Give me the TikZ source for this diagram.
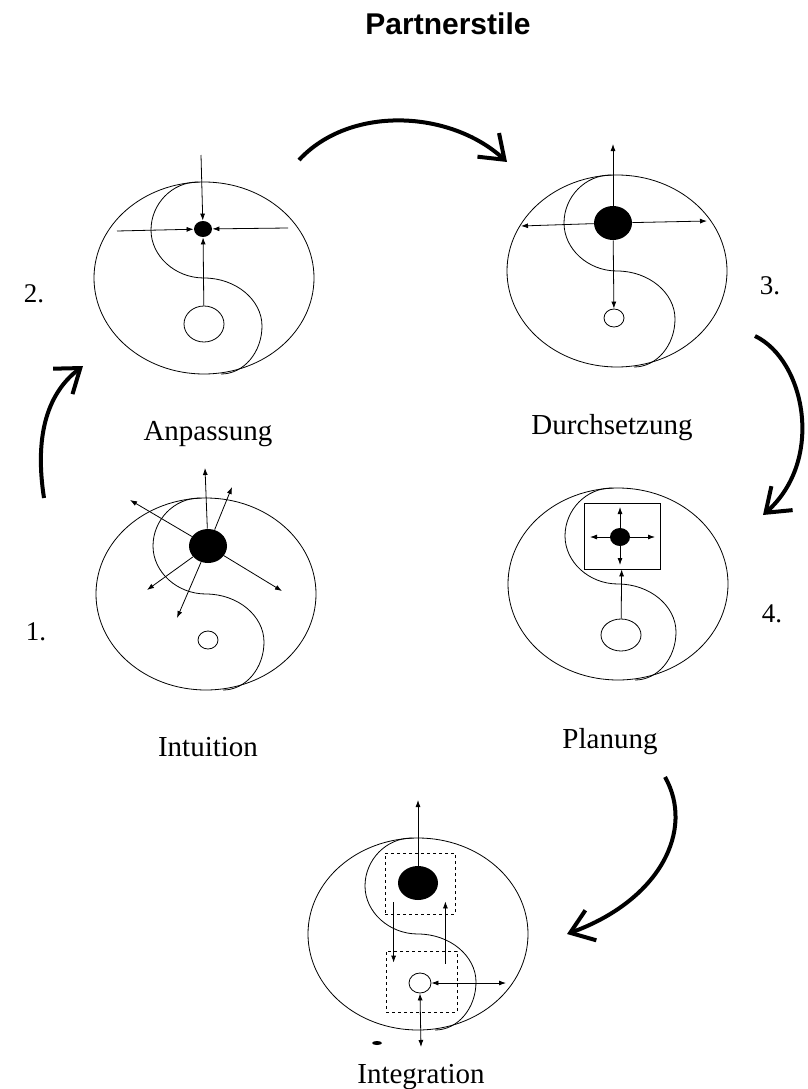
\documentclass[tikz,border=0pt]{standalone}
\usepackage{fontspec}
\setmainfont{Liberation Serif}
\newfontfamily\headfont{Liberation Sans}
\usetikzlibrary{arrows.meta,shapes.geometric}

\begin{document}
\begin{tikzpicture}[
	x=1pt, y=-1pt,
	line width=0.8pt,
	>={Latex[length=7pt,width=5pt]},
	yinyang/.pic={
		\draw (0,0) ellipse [x radius=110, y radius=96];
		\draw (-6,-96) .. controls (-32,-96) and (-53,-74) .. (-53,-48)
			.. controls (-53,-22) and (-29,0) .. (0,0)
			.. controls (32,0) and (58,22) .. (58,48)
			.. controls (58,74) and (40,96) .. (17,96);
	},
	blackdot/.style={ellipse, fill=black, inner sep=0pt},
	whitedot/.style={ellipse, draw, fill=white, inner sep=0pt},
	frame/.style={rectangle, draw, inner sep=0pt},
	flow/.style={line width=4pt, -{Straight Barb[length=22pt,width=32pt]}},
	stage/.style={font=\fontsize{29}{32}\selectfont, anchor=base},
	stagenum/.style={font=\fontsize{27}{30}\selectfont, anchor=base}
	]
    \useasboundingbox (0,0) rectangle (807,1089);
    % title
    \node[font=\headfont\bfseries\fontsize{30}{34}\selectfont, anchor=base] (title) at (448,35) {Partnerstile};

    % 1. intuition
    \pic (yy1) at (206,594) {yinyang};
    \node[whitedot, minimum width=20pt, minimum height=18pt] (c1) at (208,640) {};
    \node[blackdot, minimum width=38pt, minimum height=34pt] (d1) at (208,546) {};
    \draw[->] (d1) -- (205,468) coordinate (e1a);
    \draw[->] (d1) -- (232,487) coordinate (e1b);
    \draw[->] (d1) -- (130,500) coordinate (e1c);
    \draw[->] (d1) -- (282,591) coordinate (e1d);
    \draw[->] (d1) -- (147,590) coordinate (e1e);
    \draw[->] (d1) -- (177,618) coordinate (e1f);
    \node[stage] (lint) at (208,756) {Intuition};
    \node[stagenum] (n1) at (36,640) {1.};

    % 2. anpassung
    \pic (yy2) at (204,278) {yinyang};
    \node[whitedot, minimum width=40pt, minimum height=36pt] (c2) at (204,324) {};
    \node[blackdot, minimum width=18pt, minimum height=16pt] (d2) at (203,229) {};
    \draw[<-] (d2) -- (201,155) coordinate (e2a);
    \draw[<-] (d2) -- (117,231) coordinate (e2b);
    \draw[<-] (d2) -- (288,228) coordinate (e2c);
    \draw[->] (c2) -- (d2);
    \node[stage] (lanp) at (208,440) {Anpassung};
    \node[stagenum] (n2) at (34,302) {2.};

    % 3. durchsetzung
    \pic (yy3) at (617,271) {yinyang};
    \node[whitedot, minimum width=20pt, minimum height=18pt] (c3) at (614,318) {};
    \node[blackdot, minimum width=38pt, minimum height=34pt] (d3) at (613,223) {};
    \draw[->] (d3) -- (613,144) coordinate (e3a);
    \draw[->] (d3) -- (521,226) coordinate (e3b);
    \draw[->] (d3) -- (707,221) coordinate (e3c);
    \draw[->] (d3) -- (c3);
    \node[stage] (ldur) at (612,434) {Durchsetzung};
    \node[stagenum] (n3) at (770,294) {3.};

    % 4. planung
    \pic (yy4) at (618,584) {yinyang};
    \node[frame, minimum width=76pt, minimum height=66pt] (b4) at (622,536) {};
    \node[whitedot, minimum width=40pt, minimum height=32pt] (c4) at (621,635) {};
    \node[blackdot, minimum width=20pt, minimum height=18pt] (d4) at (620,537) {};
    \draw[->] (d4) -- (620,507) coordinate (e4a);
    \draw[->] (d4) -- (620,565) coordinate (e4b);
    \draw[->] (d4) -- (590,537) coordinate (e4c);
    \draw[->] (d4) -- (655,537) coordinate (e4d);
    \draw[->] (c4) -- (b4);
    \node[stage] (lpla) at (610,748) {Planung};
    \node[stagenum] (n4) at (772,622) {4.};

    % integration
    \pic (yy5) at (418,934) {yinyang};
    \node[frame, dashed, minimum width=70pt, minimum height=61pt] (b5a) at (420,883.5) {};
    \node[frame, dashed, minimum width=71pt, minimum height=61pt] (b5b) at (421.5,981.5) {};
    \node[whitedot, minimum width=22pt, minimum height=20pt] (c5) at (420,983) {};
    \node[blackdot, minimum width=40pt, minimum height=34pt] (d5) at (418,883) {};
    \draw[->] (d5) -- (418,800) coordinate (e5a);
    \draw[->] ([xshift=9pt,yshift=12pt]b5a.south west) -- ([xshift=8pt,yshift=-12pt]b5b.north west);
    \draw[->] ([xshift=-12pt,yshift=-13pt]b5b.north east) -- ([xshift=-10pt,yshift=13pt]b5a.south east);
    \draw[<->] (c5) -- (506,983) coordinate (e5b);
    \draw[<->] (c5.south) -- (421,1047) coordinate (e5c);
    \fill (377,1043) ellipse [x radius=5, y radius=2];
    \node[stage] (ligr) at (421,1083) {Integration};

    % big arrows
    \coordinate (t12) at (44,498);
    \coordinate (h12) at (83,366);
    \coordinate (t23) at (299,160);
    \coordinate (h23) at (507,162);
    \coordinate (t34) at (755,336);
    \coordinate (h34) at (763,515);
    \coordinate (t45) at (665,777);
    \coordinate (h45) at (567,934);
    \draw[flow] (t12) .. controls (35,440) and (45,395) .. (h12);
    \draw[flow] (t23) .. controls (350,105) and (450,110) .. (h23);
    \draw[flow] (t34) .. controls (805,360) and (825,460) .. (h34);
    \draw[flow] (t45) .. controls (695,830) and (660,900) .. (h45);
\end{tikzpicture}
\end{document}
